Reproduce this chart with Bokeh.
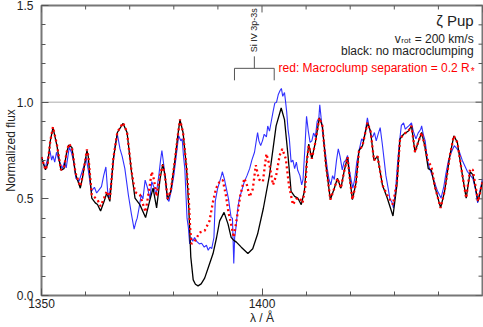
import math
from bokeh.plotting import figure
from bokeh.models import (ColumnDataSource, FixedTicker, Range1d, Span, Label,
                          PrintfTickFormatter)
from bokeh.embed import file_html
from bokeh.resources import INLINE

# ---------------- data ----------------
black_wl = [1350.0, 1350.9, 1351.4, 1352.0, 1352.6, 1353.5, 1354.4, 1355.1, 1355.7, 1356.2,
            1356.9, 1357.7, 1358.8, 1359.3, 1360.3, 1360.6, 1361.4, 1362.2, 1362.7, 1363.4,
            1364.2, 1364.8, 1365.5, 1366.3, 1367.2, 1368.5, 1369.4, 1370.4, 1371.2, 1372.3,
            1373.6, 1374.5, 1375.3, 1376.1, 1376.9, 1377.5, 1378.0, 1378.6, 1379.3, 1380.2,
            1380.9, 1381.4, 1382.1, 1382.9, 1383.4, 1383.85, 1384.4, 1384.9, 1385.5, 1386.2,
            1387.0, 1387.9, 1388.9, 1389.7, 1390.4, 1391.4, 1392.3, 1393.0, 1393.6, 1394.2,
            1395.3, 1396.8, 1397.9, 1399.0, 1400.3, 1401.7, 1403.2, 1404.35, 1405.1, 1405.9,
            1406.6, 1407.4, 1408.1, 1408.9, 1409.6, 1410.2, 1410.6, 1411.3, 1412.1, 1413.0,
            1413.7, 1414.5, 1415.5, 1416.4, 1417.1, 1417.9, 1418.6, 1419.4, 1419.9, 1420.5,
            1421.3, 1422.0, 1422.8, 1423.9, 1424.6, 1425.4, 1426.2, 1427.3, 1428.4, 1429.7,
            1430.6, 1431.3, 1432.1, 1433.2, 1433.9, 1434.7, 1435.4, 1436.2, 1436.9, 1437.7,
            1438.4, 1439.2, 1440.5, 1441.4, 1442.6, 1443.5, 1444.3, 1445.2, 1446.3, 1447.2,
            1447.8, 1449.0, 1450.0]
black_flux = [0.716, 0.650, 0.680, 0.800, 0.868, 0.775, 0.648, 0.656, 0.740, 0.779,
              0.766, 0.630, 0.555, 0.610, 0.750, 0.720, 0.504, 0.479, 0.471, 0.437,
              0.487, 0.530, 0.487, 0.707, 0.843, 0.890, 0.843, 0.640, 0.504, 0.470,
              0.403, 0.487, 0.555, 0.453, 0.606, 0.680, 0.621, 0.496, 0.538, 0.690,
              0.826, 0.910, 0.843, 0.656, 0.453, 0.200, 0.081, 0.058, 0.050, 0.060,
              0.090, 0.150, 0.217, 0.300, 0.386, 0.430, 0.369, 0.301, 0.285, 0.276,
              0.250, 0.217, 0.242, 0.318, 0.450, 0.623, 0.877, 0.970, 0.910, 0.724,
              0.538, 0.513, 0.504, 0.470, 0.538, 0.707, 0.783, 0.707, 0.792, 0.919,
              0.877, 0.674, 0.496, 0.555, 0.606, 0.555, 0.640, 0.716, 0.606, 0.496,
              0.580, 0.750, 0.775, 0.893, 0.851, 0.699, 0.720, 0.572, 0.504, 0.411,
              0.572, 0.810, 0.834, 0.851, 0.877, 0.741, 0.792, 0.843, 0.775, 0.656,
              0.648, 0.563, 0.453, 0.538, 0.724, 0.826, 0.792, 0.656, 0.504, 0.640,
              0.625, 0.487, 0.589]

red_wl = [1350.0, 1350.9, 1351.4, 1352.0, 1352.6, 1353.5, 1354.4, 1355.1, 1355.7, 1356.2,
          1356.9, 1357.7, 1358.8, 1359.3, 1360.3, 1360.6, 1361.4, 1362.2, 1362.7, 1363.4,
          1364.2, 1364.8, 1365.5, 1366.3, 1367.2, 1368.5, 1369.4, 1370.4, 1371.2, 1372.3,
          1373.6, 1374.5, 1375.0, 1375.5, 1376.1, 1376.9, 1377.5, 1378.0, 1378.6, 1379.3,
          1380.2, 1380.9, 1381.4, 1382.1, 1382.9, 1383.3, 1383.7, 1384.0, 1384.8, 1385.9,
          1387.0, 1388.1, 1388.9, 1389.6, 1390.3, 1391.1, 1391.8, 1392.4, 1393.0, 1393.6,
          1394.3, 1395.1, 1396.0, 1396.6, 1397.2, 1397.9, 1398.6, 1399.3, 1400.2, 1401.0,
          1401.7, 1402.5, 1403.2, 1404.0, 1404.6, 1405.4, 1406.1, 1407.0, 1407.8, 1408.5,
          1409.2, 1409.8, 1410.2, 1410.6, 1411.3, 1412.1, 1413.0, 1413.7, 1414.5, 1415.5,
          1416.4, 1417.1, 1417.9, 1418.6, 1419.4, 1419.9, 1420.5, 1421.3, 1422.0, 1422.8,
          1423.9, 1424.6, 1425.4, 1426.2, 1427.3, 1428.4, 1429.7, 1430.6, 1431.3, 1432.1,
          1433.2, 1433.9, 1434.7, 1435.4, 1436.2, 1436.9, 1437.7, 1438.4, 1439.2, 1440.5,
          1441.4, 1442.6, 1443.5, 1444.3, 1445.2, 1446.3, 1447.2, 1447.8, 1449.0, 1450.0]
red_flux = [0.716, 0.650, 0.680, 0.800, 0.872, 0.780, 0.650, 0.660, 0.740, 0.785,
            0.766, 0.635, 0.565, 0.612, 0.755, 0.725, 0.520, 0.505, 0.495, 0.462,
            0.505, 0.540, 0.500, 0.710, 0.845, 0.893, 0.845, 0.645, 0.535, 0.522,
            0.432, 0.560, 0.640, 0.600, 0.513, 0.625, 0.675, 0.621, 0.500, 0.540,
            0.690, 0.826, 0.910, 0.843, 0.656, 0.540, 0.352, 0.267, 0.284, 0.326,
            0.335, 0.386, 0.487, 0.555, 0.585, 0.597, 0.520, 0.430, 0.369, 0.301,
            0.400, 0.520, 0.606, 0.570, 0.510, 0.550, 0.674, 0.600, 0.589, 0.733,
            0.674, 0.572, 0.620, 0.724, 0.758, 0.707, 0.572, 0.470, 0.500, 0.505,
            0.479, 0.560, 0.700, 0.775, 0.707, 0.792, 0.919, 0.877, 0.674, 0.496,
            0.555, 0.606, 0.555, 0.640, 0.716, 0.606, 0.496, 0.580, 0.750, 0.775,
            0.893, 0.851, 0.699, 0.720, 0.572, 0.520, 0.470, 0.590, 0.810, 0.834,
            0.851, 0.877, 0.741, 0.792, 0.843, 0.775, 0.690, 0.670, 0.563, 0.453,
            0.538, 0.724, 0.826, 0.792, 0.656, 0.504, 0.655, 0.650, 0.487, 0.589]

obs_wl = [1350.0, 1350.5, 1350.8, 1351.3, 1351.9, 1352.3, 1352.6, 1353.0, 1353.4, 1353.9,
          1354.3, 1354.7, 1355.2, 1355.6, 1356.3, 1356.8, 1357.3, 1357.8, 1358.5, 1359.2,
          1359.9, 1360.1, 1360.6, 1361.3, 1362.0, 1362.5, 1363.0, 1363.6, 1364.1, 1364.6,
          1365.0, 1365.2, 1365.7, 1366.3, 1366.7, 1367.2, 1367.8, 1368.3, 1368.9, 1369.7,
          1370.4, 1371.0, 1371.4, 1371.7, 1372.1, 1372.6, 1373.0, 1373.5, 1374.0, 1374.6,
          1375.0, 1375.5, 1376.0, 1376.6, 1377.0, 1377.3, 1377.7, 1378.1, 1378.5, 1378.9,
          1379.5, 1380.0, 1380.7, 1381.1, 1381.6, 1381.9, 1382.2, 1382.5, 1382.8, 1383.0,
          1383.3, 1383.6, 1384.0, 1384.3, 1384.7, 1385.2, 1385.8, 1386.3, 1386.9, 1387.4,
          1387.8, 1388.2, 1388.6, 1389.1, 1389.4, 1389.9, 1390.4, 1390.8, 1391.0, 1391.5,
          1391.9, 1392.4, 1392.7, 1393.0, 1393.3, 1393.6, 1393.8, 1394.1, 1394.5, 1394.9,
          1395.5, 1396.0, 1396.6, 1397.2, 1397.7, 1398.3, 1398.7, 1399.0, 1399.3, 1399.7,
          1400.1, 1400.5, 1401.0, 1401.3, 1401.7, 1402.1, 1402.5, 1402.9, 1403.3, 1403.7,
          1404.1, 1404.4, 1404.7, 1405.1, 1405.3, 1405.6, 1405.9, 1406.2, 1406.6, 1407.0,
          1407.4, 1407.8, 1408.1, 1408.6, 1409.0, 1409.3, 1409.7, 1410.1, 1410.5, 1410.9,
          1411.3, 1411.7, 1412.1, 1412.5, 1412.9, 1413.1, 1413.4, 1413.7, 1414.0, 1414.4,
          1414.8, 1415.2, 1415.6, 1416.0, 1416.4, 1416.9, 1417.3, 1417.7, 1418.2, 1418.6,
          1419.0, 1419.4, 1419.8, 1420.2, 1420.6, 1421.0, 1421.5, 1422.0, 1422.6, 1423.0,
          1423.5, 1423.9, 1424.3, 1424.7, 1425.1, 1425.5, 1425.9, 1426.4, 1426.8, 1427.3,
          1427.7, 1428.1, 1428.6, 1429.0, 1429.5, 1429.8, 1430.3, 1430.8, 1431.2, 1431.6,
          1432.1, 1432.5, 1432.9, 1433.4, 1433.9, 1434.3, 1434.9, 1435.4, 1436.0, 1436.2,
          1436.6, 1437.0, 1437.5, 1438.0, 1438.6, 1439.2, 1439.8, 1440.6, 1441.2, 1441.7,
          1442.3, 1442.9, 1443.6, 1444.2, 1444.8, 1445.4, 1446.0, 1446.6, 1447.3, 1447.8,
          1448.4, 1448.9, 1449.5, 1450.0]
obs_flux = [0.716, 0.680, 0.656, 0.700, 0.750, 0.700, 0.724, 0.690, 0.741, 0.700,
            0.680, 0.656, 0.690, 0.660, 0.767, 0.740, 0.690, 0.606, 0.590, 0.640,
            0.690, 0.716, 0.650, 0.538, 0.560, 0.530, 0.545, 0.563, 0.620, 0.665,
            0.540, 0.504, 0.560, 0.700, 0.775, 0.834, 0.758, 0.720, 0.656, 0.520,
            0.420, 0.343, 0.380, 0.400, 0.450, 0.520, 0.500, 0.597, 0.560, 0.500,
            0.589, 0.560, 0.520, 0.620, 0.700, 0.750, 0.680, 0.600, 0.500, 0.487,
            0.550, 0.620, 0.750, 0.826, 0.800, 0.810, 0.720, 0.656, 0.500, 0.400,
            0.352, 0.267, 0.300, 0.280, 0.300, 0.280, 0.267, 0.270, 0.250, 0.260,
            0.234, 0.250, 0.243, 0.300, 0.487, 0.550, 0.589, 0.620, 0.640, 0.600,
            0.555, 0.500, 0.450, 0.403, 0.400, 0.166, 0.300, 0.352, 0.450, 0.504,
            0.550, 0.589, 0.620, 0.656, 0.700, 0.741, 0.800, 0.843, 0.800, 0.775,
            0.800, 0.834, 0.820, 0.877, 0.850, 0.900, 0.950, 0.995, 1.000, 1.040,
            1.060, 1.071, 1.030, 1.050, 1.012, 0.950, 0.860, 0.810, 0.690, 0.700,
            0.656, 0.690, 0.648, 0.620, 0.572, 0.600, 0.750, 0.927, 0.850, 0.792,
            0.800, 0.840, 0.820, 0.900, 0.920, 0.986, 0.920, 0.860, 0.800, 0.730,
            0.656, 0.600, 0.572, 0.620, 0.600, 0.700, 0.758, 0.720, 0.650, 0.690,
            0.700, 0.724, 0.650, 0.600, 0.555, 0.600, 0.690, 0.750, 0.810, 0.800,
            0.860, 0.919, 0.870, 0.826, 0.820, 0.843, 0.800, 0.840, 0.868, 0.780,
            0.700, 0.620, 0.555, 0.500, 0.480, 0.453, 0.550, 0.700, 0.800, 0.880,
            0.893, 0.860, 0.870, 0.880, 0.893, 0.850, 0.810, 0.840, 0.860, 0.877,
            0.830, 0.800, 0.700, 0.656, 0.620, 0.580, 0.540, 0.504, 0.560, 0.630,
            0.700, 0.740, 0.775, 0.760, 0.740, 0.700, 0.670, 0.640, 0.620, 0.606,
            0.550, 0.479, 0.550, 0.600]

x_major_ticks = [1350, 1400]
x_edge_label = 1450
x_minor_ticks = [1360, 1370, 1380, 1390, 1410, 1420, 1430, 1440]
y_major_ticks = [0.0, 0.5, 1.0, 1.5]
y_minor_ticks = [0.1, 0.2, 0.3, 0.4, 0.6, 0.7, 0.8, 0.9, 1.1, 1.2, 1.3, 1.4]

si_iv_lines = [1393.76, 1402.77]
si_iv_label = "Si IV 3p-3s"
title_text = "ζ Pup"
vrot_text = ["v", "rot", "= 200 km/s"]
black_text = "black: no macroclumping"
red_text = ["red: Macroclump separation = 0.2 R", "*"]

FONT = "Liberation Sans"
TXT = "#222222"
TICK = "#555555"

# ---------------- figure ----------------
W, H = 483, 327
BL, BR, BT, BB = 39, 1, 5, 31
X0, X1, Y0, Y1 = 1350, 1450, 0.0, 1.5
p = figure(width=W, height=H, output_backend="svg", toolbar_location=None,
           x_range=Range1d(X0, X1), y_range=Range1d(Y0, Y1),
           min_border_left=BL, min_border_right=BR, min_border_top=BT, min_border_bottom=BB,
           x_axis_label="λ / Å", y_axis_label="Normalized flux")
p.grid.visible = False
p.outline_line_color = "#777777"
p.outline_line_width = 2
p.background_fill_color = "white"
p.border_fill_color = "white"


def style(ax, ticks, minor, fmt):
    ax.ticker = FixedTicker(ticks=ticks, minor_ticks=minor)
    ax.formatter = PrintfTickFormatter(format=fmt)
    ax.axis_line_color = None
    ax.major_tick_in = 7
    ax.major_tick_out = 0
    ax.minor_tick_in = 4
    ax.minor_tick_out = 0
    ax.major_tick_line_color = TICK
    ax.minor_tick_line_color = TICK
    ax.major_label_text_font = FONT
    ax.major_label_text_color = TXT
    ax.major_label_text_font_size = "12px"
    ax.axis_label_text_font = FONT
    ax.axis_label_text_font_style = "normal"
    ax.axis_label_text_color = TXT
    ax.axis_label_text_font_size = "12px"


xa = p.xaxis[0]
style(xa, x_major_ticks, x_minor_ticks, "%d")
xa.major_label_standoff = 3
xa.axis_label_standoff = 0
ya = p.yaxis[0]
style(ya, y_major_ticks, y_minor_ticks, "%.1f")
ya.major_label_standoff = 8
ya.axis_label_standoff = -4

# inward ticks on the top and right frame edges (same tick lists as the axes)
ppx = (W - BL - BR) / (X1 - X0)
ppy = (H - BT - BB) / (Y1 - Y0)
tx = x_major_ticks + [x_edge_label]
p.segment(x0=tx, x1=tx, y0=[Y1] * len(tx), y1=[Y1 - 7 / ppy] * len(tx),
          line_color=TICK, line_width=1)
p.segment(x0=x_minor_ticks, x1=x_minor_ticks, y0=[Y1] * len(x_minor_ticks),
          y1=[Y1 - 4 / ppy] * len(x_minor_ticks), line_color=TICK, line_width=1)
p.segment(x0=[X1] * len(y_major_ticks), x1=[X1 - 7 / ppx] * len(y_major_ticks),
          y0=y_major_ticks, y1=y_major_ticks, line_color=TICK, line_width=1)
p.segment(x0=[X1] * len(y_minor_ticks), x1=[X1 - 4 / ppx] * len(y_minor_ticks),
          y0=y_minor_ticks, y1=y_minor_ticks, line_color=TICK, line_width=1)

# right-most x tick label, shifted inward as in the original
p.add_layout(Label(x=x_edge_label, y=Y0, y_offset=-3, text=str(x_edge_label), text_align="right",
                   text_baseline="top", text_font=FONT, text_font_size="12px", text_color=TXT))

p.add_layout(Span(location=1.0, dimension="width", line_color="#aaaaaa", line_width=1,
                  level="underlay"))

src_obs = ColumnDataSource(dict(x=obs_wl, y=obs_flux))
src_black = ColumnDataSource(dict(x=black_wl, y=black_flux))
src_red = ColumnDataSource(dict(x=red_wl, y=red_flux))
p.line("x", "y", source=src_obs, line_color="#1a1aff", line_width=1.1, line_alpha=0.9)
p.line("x", "y", source=src_black, line_color="black", line_width=1.3)
p.line("x", "y", source=src_red, line_color="#ff0000", line_width=2.3, line_dash="2 3")

# Si IV identification bracket
bar_y, leg_y, stub_y, lab_y = 1.175, 1.113, 1.237, 1.258
mid = sum(si_iv_lines) / 2
p.line(x=[si_iv_lines[0], si_iv_lines[0], si_iv_lines[1], si_iv_lines[1]],
       y=[leg_y, bar_y, bar_y, leg_y], line_color=TICK, line_width=1)
p.line(x=[mid, mid], y=[bar_y, stub_y], line_color=TICK, line_width=1)
p.add_layout(Label(x=mid, y=lab_y, text=si_iv_label, angle=math.pi / 2, text_align="left",
                   text_baseline="middle", text_font=FONT, text_font_size="9px",
                   text_color=TXT))

# annotation block (top right)
xr = 1448.0
p.add_layout(Label(x=xr, y=1.425, text=title_text, text_align="right", text_baseline="alphabetic",
                   text_font=FONT, text_font_size="15px", text_color=TXT))
p.add_layout(Label(x=xr, y=1.328, text=vrot_text[2], text_align="right",
                   text_baseline="alphabetic", text_font=FONT, text_font_size="12px",
                   text_color=TXT))
p.add_layout(Label(x=xr, y=1.328, x_offset=-63, y_offset=-2, text=vrot_text[1],
                   text_align="right", text_baseline="alphabetic", text_font=FONT,
                   text_font_size="8px", text_color=TXT))
p.add_layout(Label(x=xr, y=1.328, x_offset=-73, text=vrot_text[0], text_align="right",
                   text_baseline="alphabetic", text_font=FONT, text_font_size="12px",
                   text_color=TXT))
p.add_layout(Label(x=xr, y=1.263, text=black_text, text_align="right",
                   text_baseline="alphabetic", text_font=FONT, text_font_size="12px",
                   text_color=TXT))
p.add_layout(Label(x=xr, y=1.178, x_offset=-4, text=red_text[0], text_align="right",
                   text_baseline="alphabetic", text_font=FONT, text_font_size="12px",
                   text_color="#ff0000"))
p.add_layout(Label(x=xr, y=1.178, x_offset=1, y_offset=-4, text=red_text[1],
                   text_align="right", text_baseline="alphabetic", text_font=FONT,
                   text_font_size="10px", text_color="#ff0000"))

open("out.html", "w").write(file_html(p, INLINE))
